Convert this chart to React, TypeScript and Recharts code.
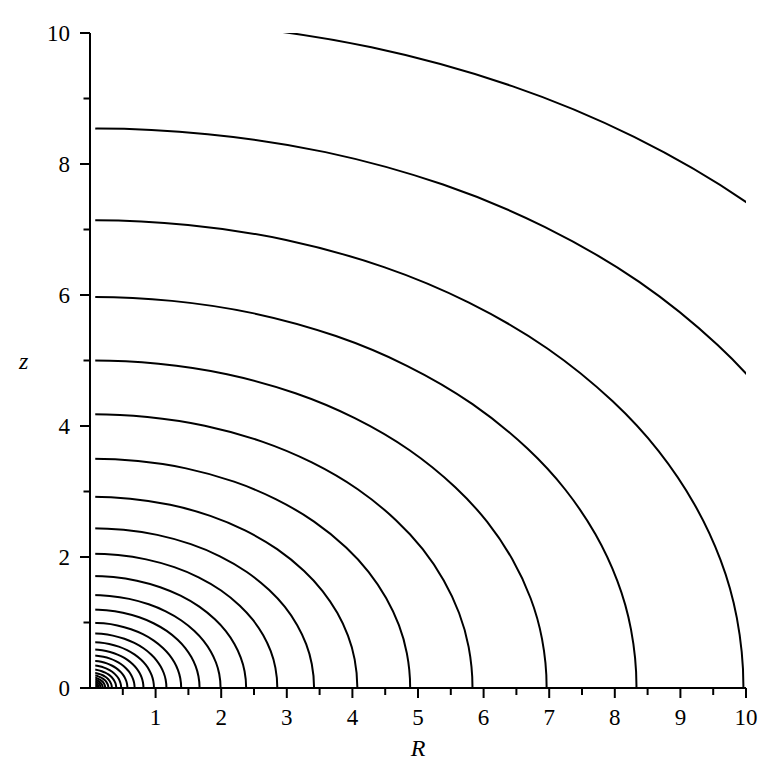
import React from 'react';
import { LineChart, Line, XAxis, YAxis, ReferenceArea, Label } from 'recharts';

// Contour intercepts (outermost first)
const rIntercepts = [14.3, 11.96, 9.96, 8.33, 6.96, 5.83, 4.88, 4.075, 3.415, 2.855, 2.38, 1.99, 1.67, 1.39, 1.165, 0.975, 0.815, 0.68, 0.57, 0.475, 0.4, 0.333, 0.28, 0.232, 0.195, 0.163, 0.136, 0.114, 0.095];
const zIntercepts = [10.21, 8.54, 7.14, 5.97, 5.0, 4.18, 3.5, 2.92, 2.44, 2.05, 1.71, 1.42, 1.2, 0.997, 0.835, 0.702, 0.59, 0.499, 0.417, 0.346, 0.285, 0.236, 0.198, 0.166, 0.139, 0.116, 0.097, 0.081, 0.068];

// Normalised contour profile (R / R-intercept, z / z-intercept).
// The first and last entries are the mirror images across the axes (the contours are
// symmetric), so the curve meets both axes at right angles; they fall outside the plot.
const shapeU = [-0.15, 0, 0.15, 0.3, 0.45, 0.58, 0.7, 0.8, 0.87, 0.925, 0.965, 0.99, 1, 0.99];
const shapeV = [0.99, 1, 0.99, 0.958, 0.9, 0.824, 0.726, 0.613, 0.507, 0.393, 0.274, 0.15, 0, -0.15];

// Contour grid starts slightly right of R = 0
const gridStartR = 0.08;

const xTicks = [0.5, 1, 1.5, 2, 2.5, 3, 3.5, 4, 4.5, 5, 5.5, 6, 6.5, 7, 7.5, 8, 8.5, 9, 9.5, 10];
const yTicks = [0, 1, 2, 3, 4, 5, 6, 7, 8, 9, 10];
const yLabels = [0, 2, 4, 6, 8, 10];

const contours = rIntercepts.map((a, i) =>
  shapeU.map((u, j) => ({ R: u * a, z: shapeV[j] * zIntercepts[i] }))
);

const FONT = "'Liberation Serif', 'Times New Roman', Tinos, Times, serif";
const textStyle = { fontFamily: FONT, fontSize: 23 };

const XTick = (props: any) => {
  const { x, y, payload } = props;
  const v = payload.value;
  const major = Number.isInteger(v);
  return (
    <g>
      <line x1={x} y1={y} x2={x} y2={y + (major ? 10 : 7)} stroke="#000" strokeWidth={2} />
      {major && (
        <text x={x} y={y + 37} textAnchor="middle" style={textStyle} fill="#000">
          {v}
        </text>
      )}
    </g>
  );
};

const YTick = (props: any) => {
  const { x, y, payload } = props;
  const v = payload.value;
  const major = yLabels.includes(v);
  return (
    <g>
      <line x1={x} y1={y} x2={x - (major ? 10 : 6.5)} y2={y} stroke="#000" strokeWidth={2} />
      {major && (
        <text x={x - 20} y={y + 8} textAnchor="end" style={textStyle} fill="#000">
          {v}
        </text>
      )}
    </g>
  );
};

export default function App() {
  return (
    <LineChart width={760} height={760} margin={{ top: 25, right: 22, bottom: 0, left: 0 }}>
      {contours.map((pts, i) => (
        <Line
          key={i}
          data={pts}
          dataKey="z"
          type="natural"
          dot={false}
          activeDot={false}
          stroke="#000"
          strokeWidth={2}
          isAnimationActive={false}
        />
      ))}
      <ReferenceArea
        x1={0}
        x2={gridStartR}
        y1={0}
        y2={10}
        fill="#fff"
        fillOpacity={1}
        stroke="none"
        zIndex={450}
      />
      <XAxis
        type="number"
        dataKey="R"
        domain={[0, 10]}
        ticks={xTicks}
        allowDataOverflow
        height={80}
        tickSize={0}
        tickMargin={0}
        tickLine={false}
        tick={<XTick />}
        interval={0}
        axisLine={{ stroke: '#000', strokeWidth: 2 }}
      >
        <Label
          value="R"
          position="insideBottom"
          offset={12}
          style={{ fontFamily: FONT, fontStyle: 'italic', fontSize: 24 }}
          fill="#000"
        />
      </XAxis>
      <YAxis
        type="number"
        domain={[0, 10]}
        ticks={yTicks}
        allowDataOverflow
        width={82}
        tickSize={0}
        tickMargin={0}
        tickLine={false}
        tick={<YTick />}
        interval={0}
        axisLine={{ stroke: '#000', strokeWidth: 2 }}
      >
        <Label
          value="z"
          position="insideLeft"
          offset={11}
          style={{ fontFamily: FONT, fontStyle: 'italic', fontSize: 24 }}
          fill="#000"
        />
      </YAxis>
    </LineChart>
  );
}
